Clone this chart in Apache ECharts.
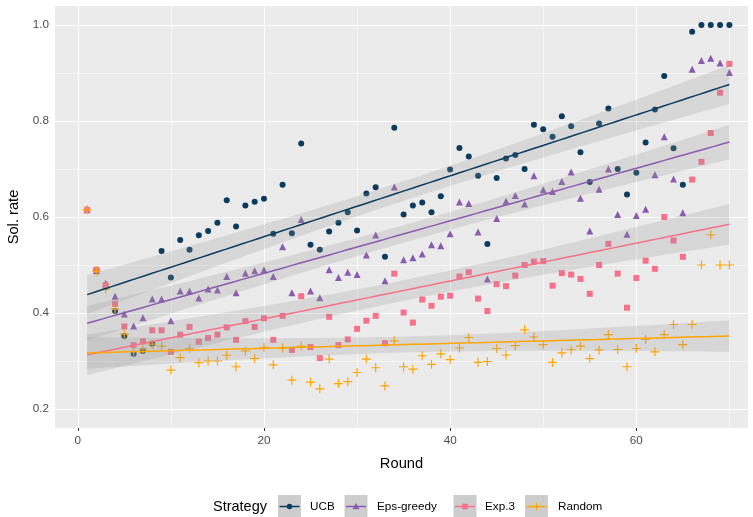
<!DOCTYPE html>
<html>
<head>
<meta charset="utf-8">
<script src="https://cdn.jsdelivr.net/npm/echarts@6/dist/echarts.min.js"></script>
<style>
html,body{margin:0;padding:0;background:#fff;}
#chart{width:753px;height:517px;}
</style>
</head>
<body>
<div id="chart"></div>
<script>
var rounds = [1,2,3,4,5,6,7,8,9,10,11,12,13,14,15,16,17,18,19,20,
  21,22,23,24,25,26,27,28,29,30,31,32,33,34,35,36,37,38,39,40,
  41,42,43,44,45,46,47,48,49,50,51,52,53,54,55,56,57,58,59,60,
  61,62,63,64,65,66,67,68,69,70];

var ucbRate = [0.615,0.49,0.454,0.404,0.352,0.315,0.321,0.336,0.529,0.474,
  0.552,0.532,0.562,0.571,0.588,0.635,0.58,0.624,0.632,0.638,
  0.565,0.667,0.566,0.753,0.542,0.532,0.57,0.588,0.61,0.572,
  0.649,0.662,0.517,0.786,0.605,0.624,0.63,0.61,0.643,0.699,
  0.744,0.726,0.686,0.544,0.681,0.722,0.729,0.70,0.792,0.783,
  0.767,0.81,0.789,0.735,0.673,0.795,0.826,0.70,0.647,0.692,
  0.755,0.824,0.894,0.743,0.667,0.986,1.0,1.0,1.0,1.0];

var epsRate = [0.615,0.488,0.462,0.435,0.398,0.373,0.39,0.429,0.429,0.384,
  0.446,0.446,0.431,0.45,0.448,0.476,0.442,0.483,0.488,0.49,
  0.476,0.538,0.442,0.595,0.446,0.432,0.49,0.474,0.485,0.48,
  0.521,0.5625,0.467,0.6625,0.511,0.515,0.523,0.542,0.54,0.565,
  0.631,0.628,0.569,0.471,0.597,0.633,0.645,0.627,0.686,0.657,
  0.653,0.674,0.694,0.639,0.571,0.658,0.70,0.605,0.564,0.603,
  0.616,0.688,0.767,0.679,0.609,0.908,0.926,0.931,0.921,0.901];

var exp3Rate = [0.615,0.49,0.458,0.419,0.372,0.333,0.341,0.364,0.364,0.319,
  0.355,0.371,0.34,0.348,0.355,0.37,0.344,0.383,0.371,0.389,
  0.344,0.394,0.323,0.435,0.329,0.306,0.392,0.333,0.345,0.367,
  0.384,0.394,0.337,0.482,0.401,0.38,0.428,0.415,0.434,0.436,
  0.476,0.485,0.43,0.404,0.46,0.456,0.478,0.50,0.507,0.508,
  0.457,0.483,0.48,0.471,0.44,0.50,0.544,0.482,0.411,0.473,
  0.509,0.492,0.60,0.551,0.517,0.678,0.715,0.775,0.859,0.919];

var randomRate = [0.615,0.487,0.45,0.408,0.356,0.32,0.325,0.335,0.331,0.281,
  0.307,0.326,0.2965,0.30,0.30,0.312,0.288,0.321,0.305,0.3285,
  0.292,0.327,0.26,0.331,0.256,0.242,0.304,0.253,0.257,0.276,
  0.304,0.286,0.248,0.342,0.288,0.283,0.311,0.293,0.315,0.303,
  0.327,0.349,0.297,0.299,0.326,0.3125,0.332,0.365,0.35,0.334,
  0.297,0.317,0.3235,0.331,0.305,0.323,0.355,0.324,0.288,0.326,
  0.345,0.319,0.355,0.376,0.334,0.376,0.50,0.563,0.50,0.50];

var strategyNames = ['UCB', 'Eps-greedy', 'Exp.3', 'Random'];
var xTicks = [0, 20, 40, 60];
var yTicks = [0.2, 0.4, 0.6, 0.8, 1.0];
var xMinor = [10, 30, 50, 70];
var yMinor = [0.3, 0.5, 0.7, 0.9];

var allRates = [ucbRate, epsRate, exp3Rate, randomRate];
var colors = ['#0B3C5D', '#8A5BAE', '#F7718A', '#FFA600'];
var plusPath = 'path://M-0.13,-1H0.13V-0.13H1V0.13H0.13V1H-0.13V0.13H-1V-0.13H-0.13Z';
var symbols = ['circle', 'triangle', 'rect', plusPath];
var sizes = [6, 7, 6, 9];
var FONT = '"Liberation Sans", Arial, sans-serif';

// linear fit + 95% band, like geom_smooth(method = "lm")
function lmFit(xs, ys) {
  var n = xs.length, mx = 0, my = 0;
  for (var i = 0; i < n; i++) { mx += xs[i]; my += ys[i]; }
  mx /= n; my /= n;
  var sxx = 0, sxy = 0;
  for (i = 0; i < n; i++) {
    sxx += (xs[i] - mx) * (xs[i] - mx);
    sxy += (xs[i] - mx) * (ys[i] - my);
  }
  var b = sxy / sxx, a = my - b * mx;
  var sse = 0;
  for (i = 0; i < n; i++) { var r = ys[i] - a - b * xs[i]; sse += r * r; }
  var s = Math.sqrt(sse / (n - 2));
  var t = 1.9955;
  var line = [], upper = [], lower = [];
  for (var k = 0; k < 80; k++) {
    var x = xs[0] + (xs[n - 1] - xs[0]) * k / 79;
    var yhat = a + b * x;
    var se = s * Math.sqrt(1 / n + (x - mx) * (x - mx) / sxx);
    line.push([x, yhat]);
    upper.push([x, yhat + t * se]);
    lower.push([x, yhat - t * se]);
  }
  return {line: line, upper: upper, lower: lower};
}

var gridLines = [];
xTicks.forEach(function (v) { gridLines.push({xAxis: v, lineStyle: {width: 1.1}}); });
xMinor.forEach(function (v) { gridLines.push({xAxis: v, lineStyle: {width: 0.55}}); });
yTicks.forEach(function (v) { gridLines.push({yAxis: v, lineStyle: {width: 1.1}}); });
yMinor.forEach(function (v) { gridLines.push({yAxis: v, lineStyle: {width: 0.55}}); });

var series = [];
allRates.forEach(function (rates, i) {
  series.push({
    name: strategyNames[i],
    type: 'scatter',
    data: rounds.map(function (r, k) { return [r, rates[k]]; }),
    symbol: symbols[i],
    symbolSize: sizes[i],
    itemStyle: {color: colors[i], opacity: 1},
    z: 2,
    markLine: i === 0 ? {
      silent: true, symbol: 'none', z: 1, animation: false,
      label: {show: false},
      lineStyle: {color: '#ffffff', type: 'solid'},
      emphasis: {disabled: true},
      data: gridLines
    } : undefined
  });
});
allRates.forEach(function (rates, i) {
  var fit = lmFit(rounds, rates);
  series.push({
    type: 'custom',
    data: [fit.line[0]],
    encode: {x: 0, y: 1},
    z: 3,
    silent: true,
    renderItem: function (params, api) {
      var pts = [];
      fit.upper.forEach(function (p) { pts.push(api.coord(p)); });
      fit.lower.slice().reverse().forEach(function (p) { pts.push(api.coord(p)); });
      return {type: 'polygon', shape: {points: pts}, style: {fill: 'rgba(153,153,153,0.23)'}};
    }
  });
  series.push({
    type: 'line',
    data: fit.line,
    showSymbol: false,
    z: 3,
    silent: true,
    lineStyle: {color: colors[i], width: 1.5}
  });
});

// ggplot style legend at the bottom
var keyX = [278, 344.5, 453.5, 525];
var textX = [310, 377, 485, 558];
var legendY = 506.5;
var graphics = [{
  type: 'text', x: 213, y: legendY,
  style: {text: 'Strategy', font: '14.5px ' + FONT, fill: '#000', verticalAlign: 'middle'}
}];
strategyNames.forEach(function (name, i) {
  var kx = keyX[i], cx = kx + 11.5, c = colors[i];
  graphics.push({type: 'rect', shape: {x: kx, y: 495, width: 23, height: 23}, style: {fill: '#CDCDCD'}});
  graphics.push({type: 'line', shape: {x1: kx + 1.5, y1: legendY, x2: kx + 21.5, y2: legendY}, style: {stroke: c, lineWidth: 1.5}});
  if (i === 0) graphics.push({type: 'circle', shape: {cx: cx, cy: legendY, r: 2.8}, style: {fill: c}});
  if (i === 1) graphics.push({type: 'polygon', shape: {points: [[cx - 3.5, legendY + 2.8], [cx + 3.5, legendY + 2.8], [cx, legendY - 3.5]]}, style: {fill: c}});
  if (i === 2) graphics.push({type: 'rect', shape: {x: cx - 2.8, y: legendY - 2.8, width: 5.6, height: 5.6}, style: {fill: c}});
  if (i === 3) graphics.push({type: 'line', shape: {x1: cx, y1: legendY - 4, x2: cx, y2: legendY + 4}, style: {stroke: c, lineWidth: 1}});
  graphics.push({
    type: 'text', x: textX[i], y: legendY,
    style: {text: name, font: '11.7px ' + FONT, fill: '#000', verticalAlign: 'middle'}
  });
});

var chart = echarts.init(document.getElementById('chart'));
chart.setOption({
  animation: false,
  textStyle: {fontFamily: FONT},
  grid: {
    left: 55, right: 5, top: 6, bottom: 89, show: true,
    backgroundColor: '#EBEBEB', borderWidth: 0,
    containLabel: false, outerBoundsMode: 'none'
  },
  xAxis: {
    type: 'value', min: -2.45, max: 72,
    name: 'Round', nameLocation: 'middle', nameGap: 28,
    nameTextStyle: {fontSize: 14.7, color: '#000', fontFamily: FONT},
    splitLine: {show: false},
    axisLine: {show: false},
    axisTick: {show: true, customValues: xTicks, length: 3, lineStyle: {color: '#333333', width: 1}},
    axisLabel: {customValues: xTicks, color: '#4D4D4D', fontSize: 11.7, margin: 7, fontFamily: FONT}
  },
  yAxis: {
    type: 'value', min: 0.1604, max: 1.0396,
    name: 'Sol. rate', nameLocation: 'middle', nameGap: 33, nameRotate: 90,
    nameTextStyle: {fontSize: 14.7, color: '#000', fontFamily: FONT},
    splitLine: {show: false},
    axisLine: {show: false},
    axisTick: {show: true, customValues: yTicks, length: 3, lineStyle: {color: '#333333', width: 1}},
    axisLabel: {
      customValues: yTicks, color: '#4D4D4D', fontSize: 11.7, margin: 6, fontFamily: FONT,
      formatter: function (v) { return v.toFixed(1); }
    }
  },
  graphic: graphics,
  series: series
});
</script>
</body>
</html>
